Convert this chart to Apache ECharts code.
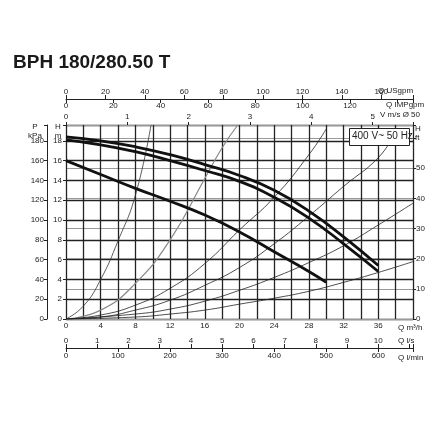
<!DOCTYPE html>
<html><head><meta charset="utf-8">
<script src="https://cdn.jsdelivr.net/npm/echarts@6/dist/echarts.min.js"></script>
<style>html,body{margin:0;background:#fff}#c{width:440px;height:440px}</style>
</head><body><div id="c"></div>
<script>
// pump curves, [Q m3/h, H m]
const curveTop = [[0,18.4],[4,18.0],[8,17.4],[12,16.6],[16,15.6],[20,14.5],[24,13.0],[28,10.9],[32,8.3],[36,5.4]];
const curveMid = [[0,18.1],[4,17.6],[8,16.9],[12,16.0],[16,15.0],[20,13.9],[24,12.3],[28,10.2],[32,7.6],[36,4.8]];
const curveLow = [[0,16.0],[4,14.6],[8,13.2],[12,11.9],[16,10.5],[20,8.8],[24,6.8],[28,4.8],[30,3.7]];
// system / velocity curves
const sysA = [[0,0],[2,1.3],[4,4.0],[6,7.9],[8,12.5],[9.8,19.6]];
const sysB = [[0,0],[4,0.9],[8,3.6],[12,8.0],[16,14.2],[18,17.3],[19.8,19.6]];
const sysC = [[0,0],[4,0.4],[8,1.4],[12,3.1],[16,5.6],[20,9.0],[24,12.3],[28,16.6],[30,19.2]];
const sysD = [[0,0],[4,0.2],[8,0.9],[12,1.9],[16,3.4],[20,5.2],[24,7.6],[28,10.4],[32,13.4],[36,16.3],[37.8,18.6]];
const sysE = [[0,0],[8,0.5],[12,1.0],[16,1.8],[20,2.9],[24,4.2],[28,5.7],[32,7.4],[36,9.5],[40,11.7]];
const sysF = [[0,0],[8,0.2],[12,0.5],[16,0.9],[20,1.5],[24,2.1],[28,2.8],[32,3.7],[36,4.7],[40,5.8]];

const qMax = 40, hMax = 19.6;
const font = 'Liberation Sans';
const lab = {color:'#222', fontSize:8, fontFamily:font};

function xa(o){
  return Object.assign({type:'value', gridIndex:0, splitLine:{show:false},
    axisLine:{onZero:false, lineStyle:{color:'#222'}}, axisTick:{lineStyle:{color:'#222'}, length:4},
    axisLabel:lab}, o);
}
const xAxes = [
  xa({position:'bottom', min:0, max:qMax, interval:2,
      axisLabel:Object.assign({}, lab, {margin:3, formatter:v=> v%4===0 && v<40 ? String(v) : ''}),
      splitLine:{show:true, lineStyle:{color:'#222', width:1.3}},
      axisLine:{show:false, onZero:false}, axisTick:{show:false}}),
  xa({position:'bottom', offset:29, min:0, max:qMax/3.6, interval:1,
      axisLabel:Object.assign({}, lab, {inside:true, margin:3, formatter:v=> v<=10 ? String(v) : ''}),
      axisTick:{inside:true, length:4, lineStyle:{color:'#222'}}}),
  xa({position:'bottom', offset:29, min:0, max:qMax/0.06, interval:100,
      axisLabel:Object.assign({}, lab, {margin:4, formatter:v=> v<=600 ? String(v) : ''}),
      axisLine:{show:false, onZero:false}}),
  xa({position:'top', offset:26, min:0, max:qMax/0.2271, interval:20,
      axisLabel:Object.assign({}, lab, {margin:3, formatter:v=> v<=160 ? String(v) : ''})}),
  xa({position:'top', offset:26, min:0, max:qMax/0.2728, interval:20,
      axisLabel:Object.assign({}, lab, {inside:true, margin:3, formatter:v=> v<=120 ? String(v) : ''}),
      axisTick:{inside:true, length:4, lineStyle:{color:'#222'}}, axisLine:{show:false, onZero:false}}),
  xa({position:'top', offset:0, min:0, max:qMax/7.069, interval:1,
      axisLabel:Object.assign({}, lab, {margin:4, formatter:v=> v<=5 ? String(v) : ''}),
      axisLine:{show:false, onZero:false}, axisTick:{length:3, lineStyle:{color:'#222'}}})
];

function ya(o){
  return Object.assign({type:'value', gridIndex:0, splitLine:{show:false},
    axisLine:{show:true, onZero:false, lineStyle:{color:'#222'}}, axisTick:{show:true, length:3, lineStyle:{color:'#222'}},
    axisLabel:lab}, o);
}
const yAxes = [
  ya({position:'left', min:0, max:hMax, interval:2,
      axisLabel:Object.assign({}, lab, {margin:4, formatter:v=> v<=18 ? String(v) : ''}),
      splitLine:{show:true, lineStyle:{color:'#222', width:1.3}}}),
  ya({position:'left', offset:19, min:0, max:hMax*10, interval:20,
      axisLabel:Object.assign({}, lab, {margin:3, formatter:v=> v<=180 ? String(v) : ''})}),
  ya({position:'right', min:0, max:hMax*3.281, interval:10,
      axisLabel:Object.assign({}, lab, {margin:3, formatter:v=> v<=50 ? String(v) : ''}),
      splitLine:{show:true, lineStyle:{color:'#999', width:1}}})
];

function curve(d, w, c){
  return {type:'line', xAxisIndex:0, yAxisIndex:0, data:d, smooth:true, symbol:'none',
    lineStyle:{width:w, color:c}, z:w>2?5:3};
}
function txt(x, y, s, align){
  return {type:'text', x:x, y:y, style:{text:s, font:'8px '+font, fill:'#222', align:align||'left', lineHeight:9}, z:11};
}

const chart = echarts.init(document.getElementById('c'));
chart.setOption({
  animation:false,
  title:{text:'BPH 180/280.50 T', left:8, top:48,
    textStyle:{fontFamily:'Liberation Sans Narrow, Liberation Sans', fontSize:19, fontWeight:'bold', color:'#1a1a1a'}},
  grid:{left:66, right:27, top:125, bottom:121},
  xAxis:xAxes, yAxis:yAxes,
  graphic:[{type:'rect', left:349, top:128, shape:{width:60, height:17},
      style:{fill:'#fff', stroke:'#222', lineWidth:1}, z:10},
    {type:'text', left:352, top:131, style:{text:'400 V~ 50 Hz', font:'10px '+font, fill:'#222'}, z:11},
    txt(378, 86, 'Q USgpm'), txt(386, 100, 'Q IMPgpm'), txt(380, 110, 'V m/s Ø 50'),
    txt(398, 323, 'Q m³/h'), txt(398, 336, 'Q l/s'), txt(398, 353, 'Q l/min'),
    txt(35, 122, 'P\nkPa', 'center'), txt(58, 122, 'H\nm', 'center'), txt(415, 124, 'H\nft')
  ],
  series:[
    curve(sysA, 0.8, '#333'), curve(sysB, 1.2, '#888'), curve(sysC, 0.8, '#222'),
    curve(sysD, 0.8, '#222'), curve(sysE, 0.8, '#222'), curve(sysF, 0.8, '#222'),
    curve(curveTop, 2.8, '#111'), curve(curveMid, 2.8, '#111'), curve(curveLow, 2.8, '#111')
  ]
});
</script></body></html>
